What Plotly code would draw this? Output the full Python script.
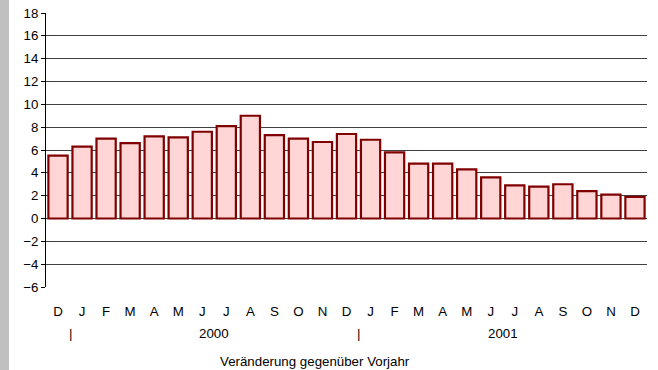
import numpy as np
import plotly.graph_objects as go

# Monthly change versus previous year, Dec 1999 .. Dec 2001
months = ["D", "J", "F", "M", "A", "M", "J", "J", "A", "S", "O", "N",
          "D", "J", "F", "M", "A", "M", "J", "J", "A", "S", "O", "N", "D"]
values = [5.5, 6.3, 7.0, 6.6, 7.2, 7.1, 7.6, 8.1, 9.0, 7.3, 7.0, 6.7,
          7.4, 6.9, 5.8, 4.8, 4.8, 4.3, 3.6, 2.9, 2.8, 3.0, 2.4, 2.1, 1.9]
years = ["2000", "2001"]
year_start = [1, 13]          # index of January in each year
y_ticks = list(range(-6, 19, 2))
x_title = "Veränderung gegenüber Vorjahr"

W, H = 658, 370
ML, MR, MT, MB = 46, 11, 13, 83
PW, PH = W - ML - MR, H - MT - MB

FONT = "Liberation Sans, Arial, sans-serif"
FS = 13.3
idx = np.arange(len(months))
bounds = np.arange(len(months) + 1) - 0.5

fig = go.Figure()
fig.add_trace(go.Bar(
    x=idx, y=values,
    marker=dict(color="#ffd5d5", line=dict(color="#800000", width=2.2)),
    width=0.8, hoverinfo="skip", showlegend=False,
))

annotations = []
year_y = -(333 - (MT + PH)) / PH
for yr, s in zip(years, year_start):
    annotations.append(dict(x=s - 0.5, y=year_y, xref="x", yref="paper", text="|",
                            showarrow=False, yanchor="middle",
                            font=dict(size=FS, color="black", family=FONT)))
    annotations.append(dict(x=s + 5.5, y=year_y, xref="x", yref="paper", text=yr,
                            showarrow=False, yanchor="middle",
                            font=dict(size=FS, color="black", family=FONT)))
annotations.append(dict(x=(315 - ML) / PW, y=-(361 - (MT + PH)) / PH,
                        xref="paper", yref="paper", text=x_title,
                        showarrow=False, yanchor="middle",
                        font=dict(size=FS, color="black", family=FONT)))

fig.update_layout(
    width=W, height=H,
    margin=dict(l=ML, r=MR, t=MT, b=MB, pad=0, autoexpand=False),
    paper_bgcolor="white", plot_bgcolor="white",
    font=dict(family=FONT, size=FS, color="black"),
    bargap=0.2,
    xaxis=dict(range=[-0.5, len(months) - 0.5], tickmode="array",
               tickvals=idx, ticktext=months, ticks="outside", ticklen=12,
               tickcolor="rgba(0,0,0,0)", showline=False, showgrid=False,
               zeroline=False, fixedrange=True, automargin=False),
    xaxis2=dict(range=[-0.5, len(months) - 0.5], overlaying="x", anchor="free",
                position=6 / 24, tickmode="array", tickvals=bounds,
                ticks="outside", ticklen=4, tickcolor="black", showticklabels=False,
                showline=True, linecolor="black", linewidth=1, showgrid=False,
                zeroline=False),
    yaxis=dict(range=[-6, 18], tickmode="array", tickvals=y_ticks,
               ticks="outside", ticklen=4, tickcolor="black",
               showline=True, linecolor="black", linewidth=1,
               showgrid=True, gridcolor="#404040", gridwidth=1,
               zeroline=False, fixedrange=True, automargin=False),
    annotations=annotations,
    shapes=[dict(type="rect", xref="paper", yref="paper",
                 x0=-ML / PW, x1=(9 - ML) / PW, y0=-MB / PH, y1=1 + MT / PH,
                 fillcolor="#c0c0c0", line=dict(width=0), layer="below")],
)

fig.write_html("out.html")
